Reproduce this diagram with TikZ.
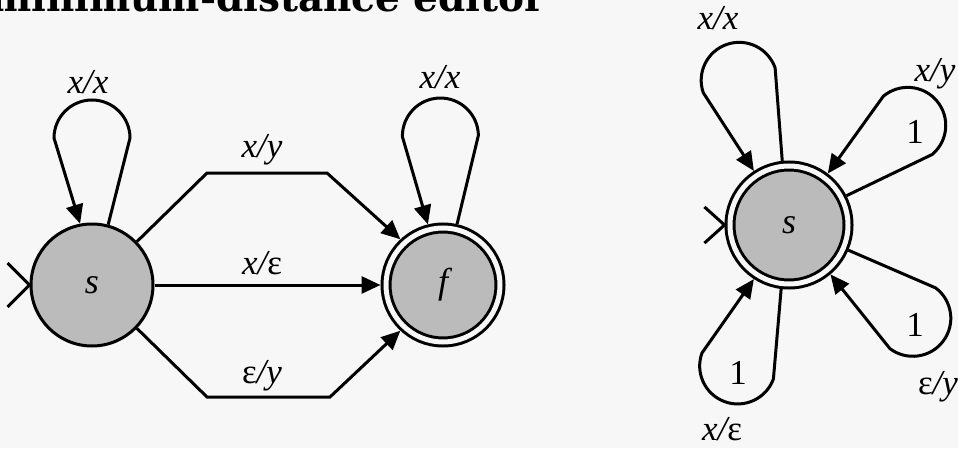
\documentclass[tikz,border=0pt]{standalone}
\usepackage{fontspec}
\setmainfont{Liberation Serif}
\newfontfamily\titlefont{DejaVu Serif}
\usetikzlibrary{arrows.meta,calc}
\definecolor{bg}{HTML}{F7F7F7}
\definecolor{stateFill}{HTML}{BBBBBB}
\tikzset{
  state/.style={circle,draw,line width=3pt,fill=stateFill,inner sep=0pt,
    minimum size=122pt,font=\fontsize{36}{36}\selectfont\itshape},
  accept/.style={state,double=bg,double distance=5pt,outer sep=5.5pt},
  edge/.style={line width=3pt,-{Triangle[length=19pt,width=17pt]}},
  plain/.style={line width=3pt},
  lbl/.style={font=\fontsize{35}{35}\selectfont,inner sep=0pt},
}
% petal loop: node, direction, arrow angle (ccw side), other angle (cw side), length
\newcommand\petalA[5]{%
  \draw[edge] (#1.#4) -- ($(#1.center)+(#2:#5pt)+({#2-90}:38pt)$)
    arc[start angle={#2-90},end angle={#2+90},radius=38pt] -- (#1.#3);}
% petal loop: node, direction, arrow angle (cw side), other angle (ccw side), length
\newcommand\petalB[5]{%
  \draw[edge] (#1.#4) -- ($(#1.center)+(#2:#5pt)+({#2+90}:38pt)$)
    arc[start angle={#2+90},end angle={#2-90},radius=38pt] -- (#1.#3);}
\begin{document}
\begin{tikzpicture}[x=1pt,y=1pt]
\useasboundingbox (0,0) rectangle (958,448);
\clip (0,0) rectangle (958,448);
\fill[bg] (0,0) rectangle (958,448);

% title (cut by the top edge)
\node[anchor=base west,inner sep=0pt] (title) at (-10,436)
  {\resizebox{555pt}{!}{\fontsize{54}{60}\titlefont\bfseries minimum-distance editor}};

% ---- left automaton ----
\node[state] (s1) at (92,163) {s};
\node[accept,minimum size=114pt] (f) at (443,163) {f};

\draw[plain] (s1.west) -- +(135:31pt);
\draw[plain] (s1.west) -- +(-135:31pt);

\petalA{s1}{90}{101}{75}{147}
\petalA{f}{91}{104}{77}{149}

\draw[edge] (s1.44) -- (207,275) -- (327,275) -- (f.133);
\draw[edge] (s1.east) -- (f.west);
\draw[edge] (s1.-44) -- (207,51) -- (330,51) -- (f.-133);

\node[lbl] (l1) at (88,366) {\itshape x/x};
\node[lbl] (l2) at (440,371) {\itshape x/x};
\node[lbl] (l3) at (262,298) {\itshape x/y};
\node[lbl] (l4) at (262,185) {{\itshape x/}ε};
\node[lbl] (l5) at (262,72) {ε{\itshape /y}};

% ---- right automaton ----
\node[accept,minimum size=118pt] (s2) at (789,223) {s};
\draw[plain] (s2.west) -- +(138:27pt);
\draw[plain] (s2.west) -- +(-138:27pt);

\petalA{s2}{109}{123}{96}{153}
\petalA{s2}{40}{53}{27}{155}
\petalB{s2}{-37}{-50}{-23}{155}
\petalB{s2}{-110}{-123}{-97}{150}

\node[lbl] (r1) at (718,430) {\itshape x/x};
\node[lbl] (r2) at (935,374) {\itshape x/y};
\node[lbl] (r3) at (938,61) {ε{\itshape /y}};
\node[lbl] (r4) at (722,19) {{\itshape x/}ε};
\node[lbl] (n1) at (915,316) {1};
\node[lbl] (n2) at (915,123) {1};
\node[lbl] (n3) at (738,75) {1};
\end{tikzpicture}
\end{document}
